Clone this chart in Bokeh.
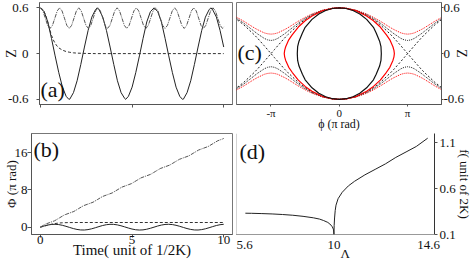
import math
from bokeh.plotting import figure
from bokeh.models import Range1d, FixedTicker, Label, Span
from bokeh.layouts import column, row
from bokeh.embed import file_html
from bokeh.resources import INLINE

FONT = "Liberation Serif"

# ---------------- data ----------------
# (a) Z(t)
T_A_SOLID = [0, .2, .4, .6, .8, 1.0, 1.2, 1.4, 1.55, 1.6, 1.8, 2.0, 2.2, 2.4, 2.6, 2.8, 3.0, 3.1,
             3.2, 3.4, 3.6, 3.8, 4.0, 4.2, 4.4, 4.6, 4.65, 4.8, 5.0, 5.2, 5.4, 5.6, 5.8, 6.0, 6.2,
             6.4, 6.6, 6.8, 7.0, 7.2, 7.4, 7.6, 7.75, 7.8, 8.0, 8.2, 8.4, 8.6, 8.8, 9.0, 9.2, 9.3,
             9.4, 9.6, 9.8, 10.0]
Z_A_SOLID = [.6, .55, .415, .20, -.03, -.25, -.44, -.56, -.6, -.597, -.512, -.356, -.143, .086, .304,
             .478, .574, .6, .574, .479, .304, .086, -.142, -.356, -.512, -.59, -.6, -.56, -.44, -.25,
             -.03, .20, .415, .55, .6, .55, .415, .20, -.03, -.25, -.44, -.56, -.6, -.597, -.512,
             -.356, -.143, .086, .304, .478, .574, .6, .574, .479, .304, .086]
T_A_DASH = [0, .1, .2, .3, .4, .5, .6, .7, .8, .9, 1.0, 1.2, 1.4, 1.6, 1.8, 2.0, 2.5, 3.0, 10.0]
Z_A_DASH = [.6, .585, .55, .49, .41, .32, .24, .18, .135, .1, .075, .045, .027, .017, .01, .006, .002, 0, 0]
T_A_DASHDOT = [0, .131, .262, .392, .523, .654, .785, .915, 1.046, 1.177, 1.308, 1.438, 1.569, 1.700,
               1.831, 1.961, 2.092, 2.223, 2.354, 2.484, 2.615, 2.746, 2.877, 3.007, 3.138, 3.269,
               3.400, 3.530, 3.661, 3.792, 3.923, 4.053, 4.184, 4.315, 4.446, 4.576, 4.707, 4.838,
               4.969, 5.099, 5.230, 5.361, 5.492, 5.622, 5.753, 5.884, 6.015, 6.145, 6.276, 6.407,
               6.538, 6.668, 6.799, 6.930, 7.061, 7.191, 7.322, 7.453, 7.584, 7.714, 7.845, 7.976,
               8.107, 8.237, 8.368, 8.499, 8.630, 8.760, 8.891, 9.022, 9.153, 9.283, 9.414, 9.545,
               9.676, 9.806, 9.937, 10.0]
Z_A_DASHDOT = [.60, .56, .465, .37, .33, .37, .465, .56,
               .60, .56, .465, .37, .33, .37, .465, .56,
               .60, .56, .465, .37, .33, .37, .465, .56,
               .60, .56, .465, .37, .33, .37, .465, .56,
               .60, .56, .465, .37, .33, .37, .465, .56,
               .60, .56, .465, .37, .33, .37, .465, .56,
               .60, .56, .465, .37, .33, .37, .465, .56,
               .60, .56, .465, .37, .33, .37, .465, .56,
               .60, .56, .465, .37, .33, .37, .465, .56,
               .60, .56, .465, .37, .33, .35]

# (b) Phi(t) in units of pi
T_B_SOLID = [0, .2, .4, .6, .8, 1.0, 1.2, 1.4, 1.6, 1.8, 2.0, 2.2, 2.4, 2.6, 2.8, 3.0, 3.2, 3.4, 3.6,
             3.8, 4.0, 4.2, 4.4, 4.6, 4.8, 5.0, 5.2, 5.4, 5.6, 5.8, 6.0, 6.2, 6.4, 6.6, 6.8, 7.0, 7.2,
             7.4, 7.6, 7.8, 8.0, 8.2, 8.4, 8.6, 8.8, 9.0, 9.2, 9.4, 9.6, 9.8, 10.0]
PHI_B_SOLID = [0, .244, .449, .582, .619, .557, .404, .185, -.063, -.30, -.49, -.60, -.613, -.526,
               -.354, -.125, .125, .354, .526, .613, .60, .49, .30, .063, -.185, -.404, -.557, -.619,
               -.582, -.449, -.244, 0, .244, .449, .582, .619, .557, .404, .185, -.063, -.30, -.49,
               -.60, -.613, -.526, -.354, -.125, .125, .354, .526, .613]
T_B_DASH = [0, .2, .4, .6, .8, 1.0, 1.2, 1.5, 2.0, 3.0, 10.0]
PHI_B_DASH = [0, .2, .42, .62, .78, .88, .94, .98, 1.0, 1.0, 1.0]
T_B_DASHDOT = [0, .262, .523, .785, 1.046, 1.308, 1.569, 1.831, 2.092, 2.354, 2.615, 2.877, 3.138,
               3.400, 3.661, 3.923, 4.184, 4.446, 4.707, 4.969, 5.230, 5.492, 5.753, 6.015, 6.276,
               6.538, 6.799, 7.061, 7.322, 7.584, 7.845, 8.107, 8.368, 8.630, 8.891, 9.153, 9.414,
               9.676, 9.937, 10.0]
PHI_B_DASHDOT = [0, .62, 1.0, 1.38, 2.0, 2.62, 3.0, 3.38, 4.0, 4.62, 4.99, 5.37, 5.99, 6.61, 6.99,
                 7.37, 7.99, 8.61, 8.99, 9.37, 9.99, 10.61, 10.99, 11.37, 11.99, 12.61, 12.99, 13.37,
                 13.99, 14.60, 14.98, 15.36, 15.98, 16.60, 16.98, 17.36, 17.98, 18.60, 18.98, 19.1]

# (c) phase portrait, phi in units of pi
PHI_C = [-1.54, -1.5, -1.4, -1.25, -1.2, -1.1, -1.05, -1.0, -0.95, -0.9, -0.8, -0.75, -0.6, -0.5,
         -0.4, -0.25, -0.1, 0, 0.1, 0.25, 0.4, 0.5, 0.6, 0.75, 0.8, 0.9, 0.95, 1.0, 1.05, 1.1, 1.2,
         1.25, 1.4, 1.5, 1.54]
Z_SEP = [-.471, -.447, -.378, -.251, -.205, -.104, -.052, 0, .052, .104, .205, .251, .378, .447,
         .504, .563, .594, .6, .594, .563, .504, .447, .378, .251, .205, .104, .052, 0, -.052, -.104,
         -.205, -.251, -.378, -.447, -.471]
Z_RUN_BLACK = [.482, .46, .40, .295, .26, .20, .18, .172, .18, .20, .26, .295, .40, .46, .51,
               .565, .595, .6, .595, .565, .51, .46, .40, .295, .26, .20, .18, .172, .18, .20,
               .26, .295, .40, .46, .482]
Z_RUN_RED = [.495, .475, .425, .34, .315, .272, .26, .255, .26, .272, .315, .34, .425, .475, .52,
             .568, .595, .6, .595, .568, .52, .475, .425, .34, .315, .272, .26, .255, .26, .272,
             .315, .34, .425, .475, .495]
PHI_BLK = [0, .1, .2, .3, .4, .5, .54, .59, .61, .615, .61, .59, .54, .5, .4, .3, .2, .1, 0,
           -.1, -.2, -.3, -.4, -.5, -.54, -.59, -.61, -.615, -.61, -.59, -.54, -.5, -.4, -.3, -.2, -.1, 0]
Z_BLK = [.6, .5915, .5655, .52, .449, .344, .27, .163, .09, 0, -.09, -.163, -.27, -.344, -.449, -.52,
         -.5655, -.5915, -.6, -.5915, -.5655, -.52, -.449, -.344, -.27, -.163, -.09, 0, .09, .163, .27,
         .344, .449, .52, .5655, .5915, .6]
PHI_RED = [0, .1, .25, .4, .5, .6, .69, .74, .785, .80, .806, .80, .785, .74, .69, .6, .5, .4, .25, .1, 0,
           -.1, -.25, -.4, -.5, -.6, -.69, -.74, -.785, -.80, -.806, -.80, -.785, -.74, -.69, -.6, -.5,
           -.4, -.25, -.1, 0]
Z_RED = [.6, .5935, .56, .4935, .43, .348, .245, .18, .09, .042, 0, -.042, -.09, -.18, -.245, -.348,
         -.43, -.4935, -.56, -.5935, -.6, -.5935, -.56, -.4935, -.43, -.348, -.245, -.18, -.09, -.042,
         0, .042, .09, .18, .245, .348, .43, .4935, .56, .5935, .6]

# (d) frequency vs Lambda
L_LEFT = [5.7, 6.0, 6.5, 7.0, 7.5, 8.0, 8.5, 9.0, 9.3, 9.5, 9.7, 9.8, 9.9, 9.95, 9.98, 10.0]
F_LEFT = [.332, .331, .328, .324, .318, .31, .298, .282, .268, .252, .232, .215, .19, .17, .15, .10]
L_RIGHT = [10.0, 10.01, 10.03, 10.06, 10.1, 10.2, 10.4, 10.7, 11.0, 11.5, 12.0, 12.5, 13.0, 13.5, 14.0, 14.55]
F_RIGHT = [.1, .2, .28, .36, .42, .49, .56, .63, .68, .75, .81, .87, .94, 1.0, 1.06, 1.15]

TICKS_Z = [-0.6, 0, 0.6]
TICKS_T = [0, 5, 10]
TICKS_PHI_B = [0, 8, 16]
TICKS_PHI_C = [-1, 0, 1]
TICKS_L = [5.6, 10, 14.6]
TICKS_F = [0.1, 0.6, 1.1]


def make_fig(w, h, xr, yr, bl, br, bt, bb, yloc="left"):
    p = figure(width=w, height=h, x_range=Range1d(*xr), y_range=Range1d(*yr),
               output_backend="svg", toolbar_location=None, y_axis_location=yloc,
               min_border_left=bl, min_border_right=br, min_border_top=bt, min_border_bottom=bb)
    p.grid.visible = False
    p.outline_line_color = "#777"
    p.background_fill_color = "white"
    p.border_fill_color = "white"
    for ax in (p.xaxis[0], p.yaxis[0]):
        ax.minor_tick_line_color = None
        ax.major_tick_in = 0
        ax.major_tick_out = 3
        ax.axis_line_color = "#555"
        ax.major_tick_line_color = "#555"
        ax.major_label_text_font = FONT
        ax.major_label_text_font_size = "13px"
        ax.major_label_text_color = "#111"
        ax.axis_label_text_font = FONT
        ax.axis_label_text_font_style = "normal"
        ax.axis_label_text_color = "#111"
        ax.axis_label_text_font_size = "13px"
    return p


def lab(p, x, y, text, size="22px"):
    p.add_layout(Label(x=x, y=y, text=text, text_font=FONT, text_font_size=size,
                       text_align="left", text_baseline="middle", text_color="#111"))


# (a)
pa = make_fig(236, 133, (-0.053, 10.479), (-0.6675, 0.670), 34, 4, 2, 26)
pa.xaxis.ticker = FixedTicker(ticks=TICKS_T)
pa.xaxis.major_label_text_color = None
pa.yaxis.ticker = FixedTicker(ticks=TICKS_Z)
pa.yaxis.major_label_overrides = {-0.6: "-0.6", 0: "0", 0.6: "0.6"}
pa.yaxis.major_label_standoff = 8
pa.yaxis.axis_label = "Z"
pa.yaxis.axis_label_text_font_size = "14px"
pa.yaxis.axis_label_standoff = -14
pa.line(T_A_SOLID, Z_A_SOLID, line_color="#222", line_width=1)
pa.line(T_A_DASH, Z_A_DASH, line_color="#333", line_width=1, line_dash="3 2")
pa.line(T_A_DASHDOT, Z_A_DASHDOT, line_color="#555", line_width=1, line_dash="4 1 1 1")
lab(pa, 0.0, -0.465, "(a)")

# (c)
pc = make_fig(238, 133, (-1.505, 1.496), (-0.6675, 0.670), 0, 33, 2, 26, yloc="right")
pc.xaxis.ticker = FixedTicker(ticks=TICKS_PHI_C)
pc.xaxis.major_label_overrides = {-1: "-π", 0: "0", 1: "π"}
pc.xaxis.major_tick_out = 2
pc.xaxis.major_label_standoff = 0
pc.xaxis.major_label_text_font_size = "11px"
pc.xaxis.axis_label = "ϕ (π rad)"
pc.xaxis.axis_label_text_font_size = "12px"
pc.xaxis.axis_label_standoff = -5
pc.yaxis.ticker = FixedTicker(ticks=TICKS_Z)
pc.yaxis.major_label_overrides = {-0.6: "-0.6", 0: "0", 0.6: "0.6"}
pc.yaxis.major_tick_out = 2
pc.yaxis.major_label_standoff = 0
pc.yaxis.axis_label = "Z"
pc.yaxis.axis_label_text_font_size = "14px"
pc.yaxis.axis_label_standoff = -13
pc.line(PHI_C, Z_RUN_RED, line_color="red", line_width=1, line_dash="1 1")
pc.line(PHI_C, [-v for v in Z_RUN_RED], line_color="red", line_width=1, line_dash="1 1")
pc.line(PHI_C, Z_RUN_BLACK, line_color="#222", line_width=1, line_dash="1 1")
pc.line(PHI_C, [-v for v in Z_RUN_BLACK], line_color="#222", line_width=1, line_dash="1 1")
pc.line(PHI_C, Z_SEP, line_color="#222", line_width=1, line_dash="2 2")
pc.line(PHI_C, [-v for v in Z_SEP], line_color="#222", line_width=1, line_dash="2 2")
pc.line(PHI_RED, Z_RED, line_color="red", line_width=1.2)
pc.line(PHI_BLK, Z_BLK, line_color="#111", line_width=1.2)
lab(pc, -1.49, 0.01, "(c)")

# (b)
pb = make_fig(236, 134, (-0.479, 10.479), (-1.58, 20.16), 26, 4, 0, 28)
pb.xaxis.ticker = FixedTicker(ticks=TICKS_T)
pb.xaxis.major_label_standoff = -2
pb.xaxis.axis_label = "Time( unit of 1/2K)"
pb.xaxis.axis_label_text_font_size = "15px"
pb.xaxis.axis_label_standoff = -5
pb.yaxis.ticker = FixedTicker(ticks=TICKS_PHI_B)
pb.yaxis.major_tick_out = 4
pb.yaxis.major_label_standoff = 0
pb.yaxis.axis_label = "Φ (π rad)"
pb.yaxis.axis_label_standoff = -7
pb.line(T_B_SOLID, PHI_B_SOLID, line_color="#222", line_width=1)
pb.line(T_B_DASH, PHI_B_DASH, line_color="#333", line_width=1, line_dash="3 2")
pb.line(T_B_DASHDOT, PHI_B_DASHDOT, line_color="#555", line_width=1, line_dash="4 1 1 1")
lab(pb, -0.372, 16.68, "(b)")

# (d)
pd_ = make_fig(238, 134, (5.27, 14.88), (0.1, 1.201), 0, 34, 0, 33, yloc="right")
pd_.outline_line_color = None
pd_.xaxis.ticker = FixedTicker(ticks=TICKS_L)
pd_.xaxis.major_label_overrides = {5.6: "5.6", 10: "10", 14.6: "14.6"}
pd_.xaxis.major_tick_line_color = None
pd_.xaxis.major_tick_out = 0
pd_.xaxis.major_label_standoff = 6
pd_.xaxis.axis_line_dash = "1 1"
pd_.xaxis.axis_line_color = "#333"
pd_.xaxis.axis_label = "\u2002\u2002\u2002Λ"
pd_.xaxis.axis_label_standoff = -6
pd_.yaxis.ticker = FixedTicker(ticks=TICKS_F)
pd_.yaxis.major_label_overrides = {0.1: "0.1", 0.6: "0.6", 1.1: "1.1"}
pd_.yaxis.major_label_standoff = 2
pd_.yaxis.axis_line_color = "#333"
pd_.yaxis.axis_label = "f( unit of 2K)"
pd_.yaxis.axis_label_standoff = -2
pd_.add_layout(Span(location=5.27, dimension="height", line_color="#aaa", line_width=1))
pd_.line(L_LEFT, F_LEFT, line_color="#222", line_width=1)
pd_.line(L_RIGHT, F_RIGHT, line_color="#222", line_width=1)
lab(pd_, 5.41, 1.005, "(d)")

layout = column(row(pa, pc), row(pb, pd_))
open("out.html", "w").write(file_html(layout, INLINE))
